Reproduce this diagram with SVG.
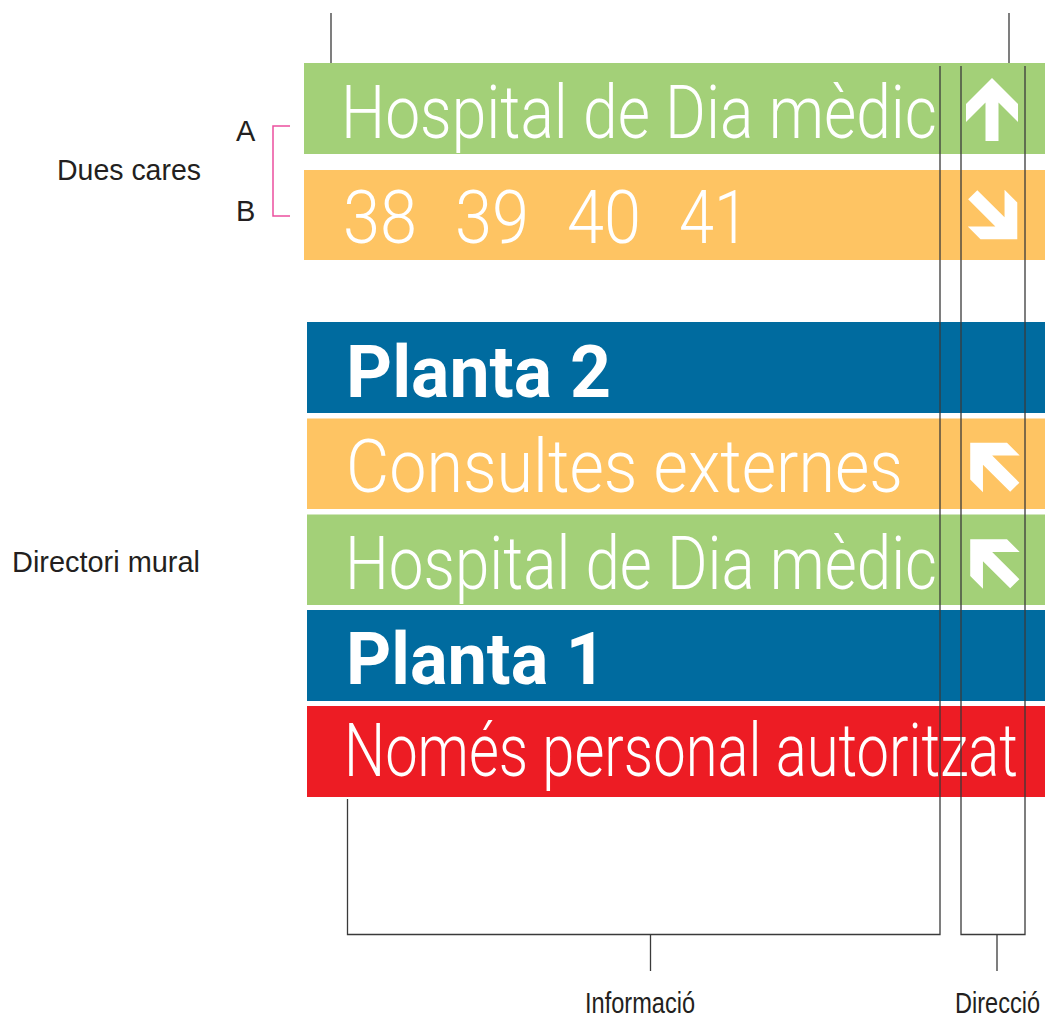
<svg xmlns="http://www.w3.org/2000/svg" width="1045" height="1016" viewBox="0 0 1045 1016">
<style>
.sign{font-family:Roboto,"Liberation Sans",sans-serif;font-weight:300;font-size:74px;fill:#ffffff}
.bold{font-family:Roboto,"Liberation Sans",sans-serif;font-weight:700;font-size:73px;fill:#ffffff}
.lbl{font-family:"Liberation Sans",Arial,sans-serif;font-size:29px;fill:#231f20}
.guide{fill:none;stroke:#3a3a3a;stroke-width:1.3}
.pink{fill:none;stroke:#ec4f9e;stroke-width:1.5}
.arrow{fill:#ffffff}
</style>
<defs>
<polygon id="arr" points="0,-31.5 26,-5.5 26,12.5 6.5,-7 6.5,31.5 -6.5,31.5 -6.5,-7 -26,12.5 -26,-5.5"/>
</defs>
<rect width="1045" height="1016" fill="#ffffff"/>

<g id="face-a">
<rect x="304" y="63" width="741" height="91" fill="#a3d078"/>
<text class="sign" x="341" y="138" textLength="596" lengthAdjust="spacingAndGlyphs">Hospital de Dia mèdic</text>
<use href="#arr" class="arrow" transform="translate(992,109.5)"/>
</g>

<g id="face-b">
<rect x="304" y="170" width="741" height="90" fill="#fec463"/>
<text class="sign" x="343" y="243" textLength="74" lengthAdjust="spacingAndGlyphs">38</text>
<text class="sign" x="455" y="243" textLength="74" lengthAdjust="spacingAndGlyphs">39</text>
<text class="sign" x="567" y="243" textLength="74" lengthAdjust="spacingAndGlyphs">40</text>
<text class="sign" x="679" y="243" textLength="70" lengthAdjust="spacingAndGlyphs">41</text>
<use href="#arr" class="arrow" transform="translate(995,217) rotate(135)"/>
</g>

<g id="planta-2">
<rect x="307" y="322" width="738" height="91" fill="#006b9f"/>
<text class="bold" x="346" y="397" textLength="265" lengthAdjust="spacingAndGlyphs">Planta 2</text>
</g>

<g id="consultes">
<rect x="307" y="418.5" width="738" height="90.5" fill="#fec463"/>
<text class="sign" x="346" y="492" textLength="557" lengthAdjust="spacingAndGlyphs">Consultes externes</text>
<use href="#arr" class="arrow" transform="translate(992.5,465) rotate(-45)"/>
</g>

<g id="hospital-dia">
<rect x="307" y="514.5" width="738" height="90.5" fill="#a3d078"/>
<text class="sign" x="345" y="589" textLength="592" lengthAdjust="spacingAndGlyphs">Hospital de Dia mèdic</text>
<use href="#arr" class="arrow" transform="translate(992.5,561.5) rotate(-45)"/>
</g>

<g id="planta-1">
<rect x="307" y="610" width="738" height="91" fill="#006b9f"/>
<text class="bold" x="346" y="684" textLength="260" lengthAdjust="spacingAndGlyphs">Planta 1</text>
</g>

<g id="nomes-personal">
<rect x="307" y="706" width="738" height="91" fill="#ed1c24"/>
<text class="sign" x="344" y="776" textLength="674" lengthAdjust="spacingAndGlyphs">Només personal autoritzat</text>
</g>

<g id="labels">
<text class="lbl" x="57" y="180" font-size="30" textLength="144" lengthAdjust="spacingAndGlyphs">Dues cares</text>
<text class="lbl" x="236" y="141" font-size="30">A</text>
<text class="lbl" x="236" y="221" font-size="30">B</text>
<text class="lbl" x="12" y="572" textLength="188" lengthAdjust="spacingAndGlyphs">Directori mural</text>
<text class="lbl" x="585" y="1013" font-size="28" textLength="110" lengthAdjust="spacingAndGlyphs">Informació</text>
<text class="lbl" x="955" y="1013" font-size="28" textLength="85" lengthAdjust="spacingAndGlyphs">Direcció</text>
</g>

<g id="connectors">
<path class="pink" d="M290,126 H273 V216 H290"/>
<line class="guide" x1="331" y1="13" x2="331" y2="63"/>
<line class="guide" x1="1009" y1="13" x2="1009" y2="63"/>
<path class="guide" d="M347.5,799 V934.5 H940 V66"/>
<path class="guide" d="M961,66 V934.5 H1025 V66"/>
<line class="guide" x1="650.5" y1="934.5" x2="650.5" y2="971"/>
<line class="guide" x1="997" y1="934.5" x2="997" y2="971"/>
</g>
</svg>
